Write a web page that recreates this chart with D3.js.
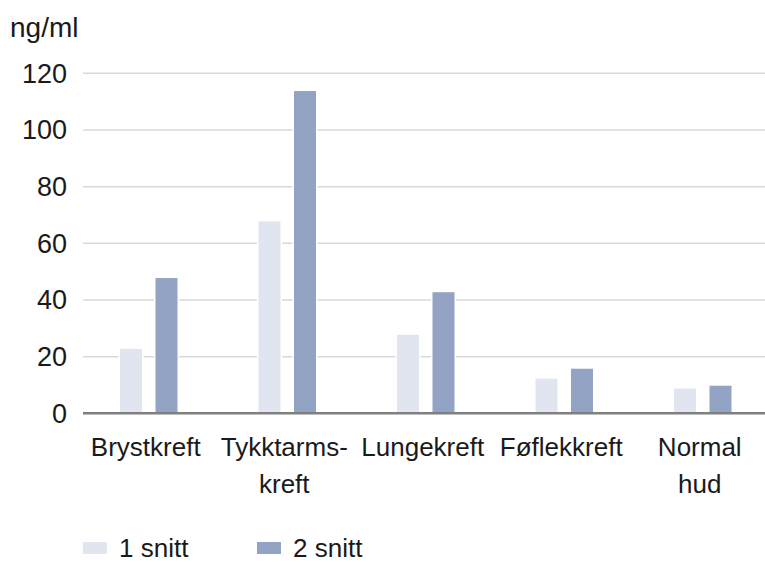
<!DOCTYPE html>
<html>
<head>
<meta charset="utf-8">
<script src="https://cdn.jsdelivr.net/npm/d3@7"></script>
<style>
    body { margin: 0; background: #fff; }
    svg { font-family: 'Liberation Sans', Arial, sans-serif; }
    .tick-label, .unit { font-size: 27px; fill: #1a1a1a; }
    .unit { font-size: 28px; }
    .cat-label { font-size: 26px; fill: #1a1a1a; }
    .legend-label { font-size: 26px; fill: #1a1a1a; }
</style>
</head>
<body>
<svg id="chart" width="765" height="562"></svg>
<script>
// data
const categories = [['Brystkreft'], ['Tykktarms-', 'kreft'], ['Lungekreft'], ['Føflekkreft'], ['Normal', 'hud']];
const seriesNames = ['1 snitt', '2 snitt'];
const snitt1 = [23, 68, 28, 12.5, 9];
const snitt2 = [48, 114, 43, 16, 10];
const yTicks = [0, 20, 40, 60, 80, 100, 120];

const colors = ['#e1e5f0', '#93a3c3'];

const svg = d3.select('#chart');
const W = 765;
const margin = { left: 83, top: 73.3, bottom: 413.3 };

const catNames = categories.map(c => c.join(' '));
const rows = catNames.map((c, i) => ({ cat: c, values: [snitt1[i], snitt2[i]] }));

const x0 = d3.scaleBand().domain(catNames).range([79.5, 772]);
const x1 = d3.scaleBand().domain(seriesNames).range([0, 59]).paddingInner(0.338).paddingOuter(0);
const y = d3.scaleLinear().domain([0, 120]).range([margin.bottom, margin.top]);

// gridlines
svg.append('g')
    .selectAll('line')
    .data(yTicks.filter(d => d > 0))
    .join('line')
    .attr('x1', margin.left).attr('x2', W)
    .attr('y1', d => y(d)).attr('y2', d => y(d))
    .attr('stroke', '#d9d9d9')
    .attr('stroke-width', 1.5);

// y tick labels
svg.append('g')
    .selectAll('text')
    .data(yTicks)
    .join('text')
    .attr('class', 'tick-label')
    .attr('x', 67)
    .attr('y', d => y(d))
    .attr('dy', '0.35em')
    .attr('text-anchor', 'end')
    .text(d => d);

svg.append('text')
    .attr('class', 'unit')
    .attr('x', 10)
    .attr('y', 37)
    .text('ng/ml');

// bars
const groups = svg.append('g')
    .selectAll('g')
    .data(rows)
    .join('g')
    .attr('transform', d => `translate(${x0(d.cat) + x0.bandwidth() / 2 - 29.5},0)`);

groups.selectAll('rect')
    .data(d => d.values.map((v, i) => ({ key: seriesNames[i], v: v, i: i })))
    .join('rect')
    .attr('x', d => x1(d.key))
    .attr('width', x1.bandwidth())
    .attr('y', d => y(d.v))
    .attr('height', d => y(0) - y(d.v))
    .attr('fill', d => colors[d.i])
    .attr('stroke', '#fff')
    .attr('stroke-width', 1.5);

// baseline
svg.append('line')
    .attr('x1', margin.left).attr('x2', W)
    .attr('y1', y(0)).attr('y2', y(0))
    .attr('stroke', '#7f7f7f')
    .attr('stroke-width', 2.5);

// category labels
const catLabels = svg.append('g')
    .selectAll('text')
    .data(categories)
    .join('text')
    .attr('class', 'cat-label')
    .attr('text-anchor', 'middle')
    .attr('transform', (d, i) => `translate(${x0(catNames[i]) + x0.bandwidth() / 2 - 3},456)`);

catLabels.selectAll('tspan')
    .data(d => d)
    .join('tspan')
    .attr('x', 0)
    .attr('y', (d, i) => i * 37)
    .text(d => d);

// legend
const legendX = [83, 257];
const legend = svg.append('g')
    .selectAll('g')
    .data(seriesNames)
    .join('g')
    .attr('transform', (d, i) => `translate(${legendX[i]},548)`);

legend.append('rect')
    .attr('x', 0).attr('y', -6)
    .attr('width', 24).attr('height', 12)
    .attr('fill', (d, i) => colors[i]);

legend.append('text')
    .attr('class', 'legend-label')
    .attr('x', 36)
    .attr('y', 0)
    .attr('dy', '0.35em')
    .text(d => d);
</script>
</body>
</html>
